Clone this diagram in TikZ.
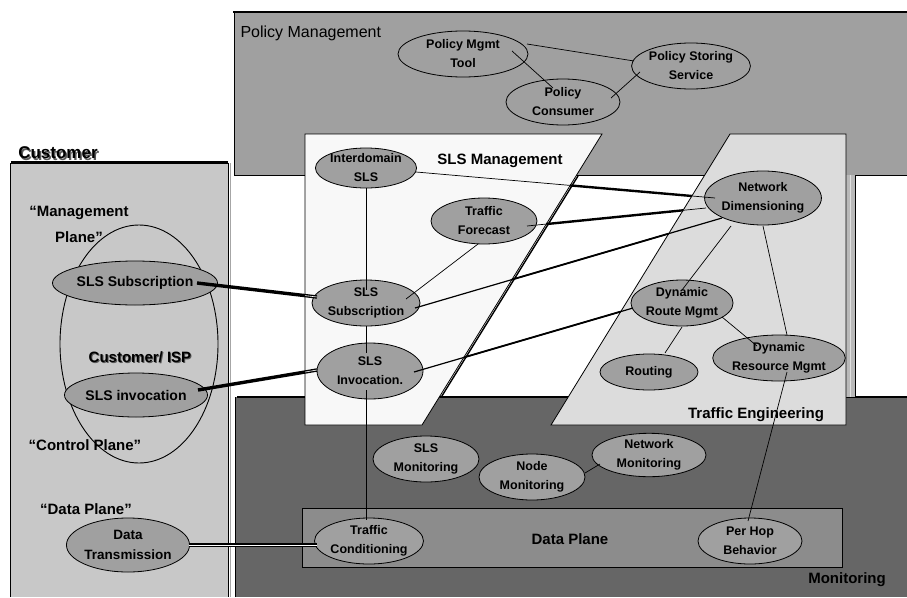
\documentclass[tikz,border=0pt]{standalone}
\usepackage{fontspec}
\setmainfont{Liberation Sans}
\usetikzlibrary{shapes.geometric,calc,intersections}
\definecolor{polgray}{RGB}{160,160,160}
\definecolor{custgray}{RGB}{200,200,200}
\definecolor{slsfill}{RGB}{248,248,248}
\definecolor{tefill}{RGB}{220,220,220}
\definecolor{mongray}{RGB}{102,102,102}
\definecolor{dpgray}{RGB}{140,140,140}
\definecolor{elgray}{RGB}{160,160,160}
\begin{document}
\begin{tikzpicture}[x=1pt,y=-1pt,
  ell/.style={ellipse, draw=black, line width=0.8pt, fill=elgray, inner sep=0pt, align=center,
              font=\fontsize{12.5}{19}\selectfont\bfseries},
  cell/.style={ell, font=\fontsize{14}{20}\selectfont\bfseries},
  conn/.style={line width=0.7pt},
  mconn/.style={line width=1.2pt},
  band/.style={line width=2.4pt},
  heavy/.style={line width=3.4pt},
  region/.style={font=\fontsize{15}{18}\selectfont\bfseries},
  plabel/.style={font=\fontsize{15}{26}\selectfont\bfseries, align=center},
  edge/.style={line width=0.8pt}
]
\useasboundingbox (0,0) rectangle (907,597);
\fill[white] (0,0) rectangle (907,597);

% Policy management box
\fill[polgray] (234,13) rectangle (907,175);
\draw[edge] (907,175) -- (234,175) -- (234,13);
\draw[line width=2.4pt] (233,12) -- (907,12);

% Monitoring box
\fill[mongray] (235,397) rectangle (907,597);
\draw[edge] (235,597) -- (235,397);
\draw[line width=2.4pt] (237,397) -- (907,397);

% right strip
\fill[gray!55] (846,175) rectangle (855,397);
\draw[gray!25, line width=0.7pt] (850,175) -- (850,397);
\draw[line width=0.6pt] (855.5,175) -- (855.5,397);

% Customer box
\fill[custgray] (10,163) rectangle (228,597);
\draw[edge] (10,597) -- (10,163) -- (228,163) -- (228,597);
\draw[line width=1.6pt] (11,162) -- (228,162);
\draw[gray!70, line width=0.8pt] (230.5,163) -- (230.5,597);

% SLS management trapezoid
\filldraw[fill=slsfill, edge] (305,134) -- (602,134) -- (422,425) -- (305,425) -- cycle;
\draw[line width=1.4pt] (578,176) -- (441.3,397);

% Traffic engineering trapezoid
\filldraw[fill=tefill, edge] (730,134) -- (846,134) -- (846,425) -- (551,425) -- cycle;

% Data plane box
\filldraw[fill=dpgray, edge] (302,508) rectangle (842,567);

% Customer/ISP ellipse
\draw[line width=0.9pt] (139,344) ellipse [x radius=79, y radius=119];

% region labels
\node[anchor=west, font=\fontsize{16}{18}\selectfont] (lpol) at (237,33) {Policy Management};
\node[region] (lsls) at (500,161) {SLS Management};
\node[region] (lte) at (756,415) {Traffic Engineering};
\node[region] (ldp) at (570,539) {Data Plane};
\node[region] (lmon) at (847,580) {Monitoring};

% customer labels
\node[font=\fontsize{17}{20}\selectfont\bfseries, text=gray!70!black] (custsh) at (59.5,154.5) {Customer};
\node[font=\fontsize{17}{20}\selectfont\bfseries] (cust) at (58,153) {Customer};
\node[plabel] (lmgmt) at (79,224) {“Management\\Plane”};
\node[font=\fontsize{15}{18}\selectfont\bfseries, text=gray!70!black] (ispsh) at (141,358) {Customer/ ISP};
\node[font=\fontsize{15}{18}\selectfont\bfseries] (isp) at (140,357) {Customer/ ISP};
\node[plabel] (lctrl) at (85,445) {“Control Plane”};
\node[plabel] (ldata) at (86,509) {“Data Plane”};

% policy nodes
\node[ell, minimum width=130pt, minimum height=46pt] (pmt) at (463,54) {Policy Mgmt\\Tool};
\node[ell, minimum width=114pt, minimum height=46pt] (pss) at (691,66) {Policy Storing\\Service};
\node[ell, minimum width=114pt, minimum height=46pt] (pc) at (563,102) {Policy\\Consumer};

% SLS nodes
\node[ell, minimum width=100pt, minimum height=40pt] (ids) at (366,168) {Interdomain\\SLS};
\node[ell, minimum width=106pt, minimum height=46pt] (tf) at (484,221) {Traffic\\Forecast};
\node[ell, minimum width=100pt, minimum height=46pt] (ssub) at (366,303) {SLS\\Subscription};
\node[ell, minimum width=106pt, minimum height=56pt] (sinv) at (370,371) {SLS\\Invocation.};

% TE nodes
\node[ell, minimum width=114pt, minimum height=54pt] (nd) at (763,198) {Network\\Dimensioning};
\node[ell, minimum width=98pt, minimum height=46pt] (drm) at (682,303) {Dynamic\\Route Mgmt};
\node[ell, minimum width=98pt, minimum height=36pt] (rout) at (649,372) {Routing};
\node[ell, minimum width=114pt, minimum height=46pt] (dres) at (779,358) {Dynamic\\Resource Mgmt};

% monitoring nodes
\node[ell, minimum width=106pt, minimum height=46pt] (slsmon) at (426,459) {SLS\\Monitoring};
\node[ell, minimum width=106pt, minimum height=46pt] (nodemon) at (532,477) {Node\\Monitoring};
\node[ell, minimum width=114pt, minimum height=38pt] (netmon) at (649,455) {Network\\Monitoring};
\node[ell, minimum width=106pt, minimum height=46pt] (tc) at (369,541) {Traffic\\Conditioning};
\node[ell, minimum width=104pt, minimum height=46pt] (phb) at (750,541) {Per Hop\\Behavior};

% customer nodes
\node[cell, minimum width=124pt, minimum height=44pt] (csub) at (135,283) {SLS Subscription};
\node[cell, minimum width=124pt, minimum height=44pt] (cinv) at (136,395) {SLS invocation};
\node[ell, font=\fontsize{13.5}{20}\selectfont\bfseries, minimum width=122pt, minimum height=54pt] (dtx) at (128,545) {Data\\Transmission};

% policy connectors
\draw[conn] ($(pmt)+(64,-10)$) -- ($(pss)+(-57,-5)$);
\draw[conn] ($(pmt)+(49,-3)$) -- ($(pc)+(-10,-14)$);
\draw[conn] ($(pss)+(-51,6)$) -- ($(pc)+(48,-4)$);

% SLS internal connectors
\draw[conn] ($(ids)+(0,20)$) -- ($(ssub)+(0,-13)$);
\draw[conn] ($(ssub)+(0,23)$) -- ($(sinv)+(-4,-18)$);
\draw[conn] ($(sinv)+(-4,19)$) -- ($(tc)+(-3,-21)$);
\draw[conn] ($(tf)+(-6,23)$) -- ($(ssub)+(40,-4)$);

% slanted edges for crossings
\path[name path=slsedge] (602,134) -- (422,425);
\path[name path=teedge] (730,134) -- (551,425);

\draw[conn, name path=c1] ($(ids)+(50,4)$) -- ($(nd)+(-48,0)$);
\path[name intersections={of=c1 and slsedge, by=i1a}];
\path[name intersections={of=c1 and teedge, by=i1b}];
\draw[band] (i1a) -- (i1b);

\draw[conn, name path=c2] ($(tf)+(43,5)$) -- ($(nd)+(-57,10)$);
\path[name intersections={of=c2 and slsedge, by=i2a}];
\path[name intersections={of=c2 and teedge, by=i2b}];
\draw[band] (i2a) -- (i2b);

\draw[mconn, name path=c3] ($(ssub)+(49,5)$) -- ($(nd)+(-41,20)$);
\path[name intersections={of=c3 and slsedge, by=i3a}];
\path[name intersections={of=c3 and teedge, by=i3b}];
\draw[line width=1.8pt] (i3a) -- (i3b);

\draw[mconn, name path=c4] ($(sinv)+(44,1)$) -- ($(drm)+(-49,5)$);
\path[name intersections={of=c4 and slsedge, by=i4a}];
\path[name intersections={of=c4 and teedge, by=i4b}];
\draw[line width=1.8pt] (i4a) -- (i4b);

% TE connectors
\draw[conn] ($(nd)+(-32,28)$) -- ($(drm)+(0,-13)$);
\draw[conn] ($(nd)+(0,28)$) -- ($(dres)+(8,-23)$);
\draw[conn] ($(drm)+(40,14)$) -- ($(dres)+(-22,-12)$);
\draw[conn] ($(drm)+(0,24)$) -- ($(rout)+(16,-19)$);
\draw[conn] ($(dres)+(8,14)$) -- ($(phb)+(-2,-20)$);

% monitoring connector
\draw[conn] ($(nodemon)+(53,-4)$) -- ($(netmon)+(-49,9)$);

% customer connectors
\coordinate (h1a) at ($(csub)+(62,0)$);
\coordinate (h1b) at ($(ssub)+(-49,-6)$);
\coordinate (h2a) at ($(cinv)+(62,-5)$);
\coordinate (h2b) at ($(sinv)+(-53,-1)$);
\coordinate (h3a) at ($(dtx)+(61,0)$);
\coordinate (h3b) at ($(tc)+(-52,4)$);
\draw[heavy] (h1a) -- (h1b);
\draw[white, line width=0.6pt] ($(h1a)!0.9!(h1b)$) -- (h1b);
\draw[heavy] (h2a) -- (h2b);
\draw[white, line width=0.6pt] ($(h2a)!0.9!(h2b)$) -- (h2b);
\draw[line width=1.3pt, double=white, double distance=1.0pt] (h3a) -- (h3b);
\end{tikzpicture}
\end{document}
